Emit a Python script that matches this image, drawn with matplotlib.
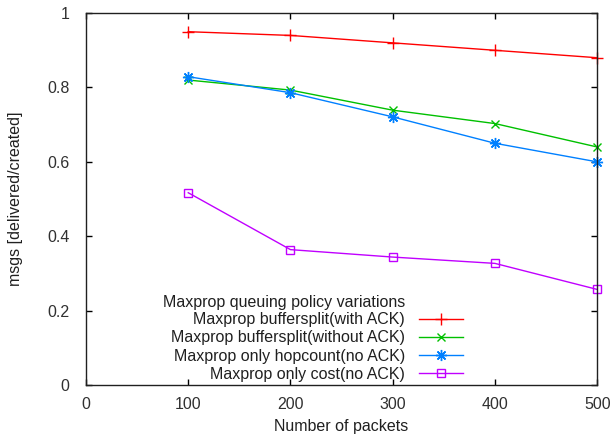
import numpy as np
import matplotlib.pyplot as plt
from matplotlib.ticker import FormatStrFormatter

plt.rcParams['font.family'] = ['Liberation Sans', 'DejaVu Sans']

packets = [100, 200, 300, 400, 500]
with_ack = [0.95, 0.94, 0.92, 0.90, 0.88]
without_ack = [0.82, 0.793, 0.739, 0.703, 0.64]
hopcount = [0.829, 0.786, 0.721, 0.65, 0.60]
cost = [0.517, 0.364, 0.344, 0.327, 0.257]

labels = ["Maxprop buffersplit(with ACK)",
          "Maxprop buffersplit(without ACK)",
          "Maxprop only hopcount(no ACK)",
          "Maxprop only cost(no ACK)"]
key_title = "Maxprop queuing policy variations"

fs = 11.5
fig = plt.figure(figsize=(6.1, 4.37), dpi=100)
ax = fig.add_axes([0.141, 0.119, 0.838, 0.851])

ax.plot(packets, with_ack, color='#ff0000', lw=1, marker='+', ms=8, mew=1, clip_on=False, label=labels[0])
ax.plot(packets, without_ack, color='#00c000', lw=1, marker='x', ms=6, mew=1, clip_on=False, label=labels[1])
ax.plot(packets, hopcount, color='#0080ff', lw=1, marker=(8, 2, 0), ms=8, mew=1, clip_on=False, label=labels[2])
ax.plot(packets, cost, color='#c000ff', lw=1, marker='s', ms=6, mew=1, mfc='none', clip_on=False, label=labels[3])

ax.set_xlim(0, 500)
ax.set_ylim(0, 1)
ax.set_xticks([0, 100, 200, 300, 400, 500])
ax.set_yticks([0, 0.2, 0.4, 0.6, 0.8, 1])
ax.yaxis.set_major_formatter(FormatStrFormatter('%g'))
ax.tick_params(direction='in', top=True, right=True, length=4, width=1,
               labelsize=fs, labelcolor='#303030')
ax.tick_params(axis='x', pad=9)
ax.tick_params(axis='y', pad=12)
for s in ax.spines.values():
    s.set_color('#202020')
    s.set_linewidth(1)

ax.set_xlabel("Number of packets", fontsize=fs, color='#202020', labelpad=5)
ax.set_ylabel("msgs [delivered/created]", fontsize=fs, color='#202020', labelpad=17)

leg = ax.legend(loc='lower right', bbox_to_anchor=(0.744, 0.0), frameon=False,
                markerfirst=False, fontsize=fs, handlelength=2.75,
                handletextpad=0.875, labelspacing=0.2, borderaxespad=0.0, borderpad=0.2)
for t in leg.get_texts():
    t.set_color('#202020')

# key title, gnuplot puts it left of the entries
ax.text(0.151, 0.223, key_title, transform=ax.transAxes, fontsize=fs,
        color='#202020', ha='left', va='center')

plt.savefig("out.png", dpi=100)
